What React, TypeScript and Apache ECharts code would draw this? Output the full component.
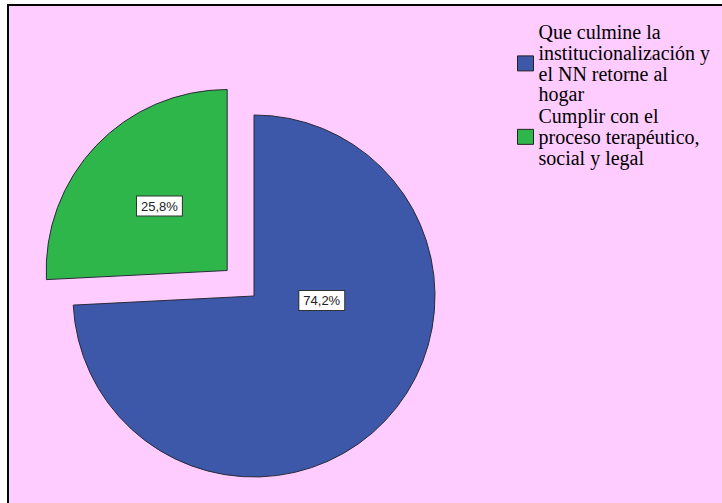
import React, { useEffect, useRef } from "react";
import * as echarts from "echarts";

const categories = [
  "Que culmine la\ninstitucionalización y\nel NN retorne al\nhogar",
  "Cumplir con el\nproceso terapéutico,\nsocial y legal",
];
const values = [74.2, 25.8];
const colors = ["#3D58A8", "#2FB64B"];

export default function App() {
  const ref = useRef<HTMLDivElement>(null);
  useEffect(() => {
    if (!ref.current) return;
    const chart = echarts.init(ref.current, null, { renderer: "svg" });
    chart.setOption({
      animation: false,
      backgroundColor: "#ffffff",
      graphic: [
        {
          type: "rect",
          z: -10,
          silent: true,
          shape: { x: 8, y: 5, width: 730, height: 510 },
          style: { fill: "#FFCCFF", stroke: "#000000", lineWidth: 2 },
        },
      ],
      legend: {
        orient: "vertical",
        left: 512,
        top: 17,
        itemGap: 1,
        itemWidth: 16,
        itemHeight: 15,
        icon: "rect",
        selectedMode: false,
        itemStyle: { borderColor: "#222", borderWidth: 1 },
        textStyle: {
          fontFamily: "'Liberation Serif', 'DejaVu Serif', serif",
          fontSize: 20,
          lineHeight: 20.7,
          color: "#000",
        },
        data: categories,
      },
      series: [
        {
          type: "pie",
          center: [254, 296],
          radius: [0, 181],
          startAngle: 90,
          clockwise: true,
          selectedMode: "single",
          selectedOffset: 37,
          avoidLabelOverlap: false,
          emphasis: { disabled: true },
          itemStyle: { borderColor: "#2a2a3a", borderWidth: 1 },
          label: {
            show: true,
            position: "inside",
            formatter: (p: any) => String(p.value).replace(".", ",") + "%",
            backgroundColor: "#ffffff",
            borderColor: "#333",
            borderWidth: 1,
            padding: [3, 4],
            fontFamily: "Liberation Sans",
            fontSize: 13,
            color: "#222",
          },
          labelLayout: (params: any) => (params.dataIndex === 0 ? { dy: -60 } : {}),
          data: categories.map((name, i) => ({
            name,
            value: values[i],
            selected: i === 1,
            itemStyle: { color: colors[i] },
          })),
        },
      ],
    });
    return () => chart.dispose();
  }, []);
  return (
    <div
      ref={ref}
      style={{ position: "absolute", left: 0, top: 0, width: 722, height: 503 }}
    />
  );
}
